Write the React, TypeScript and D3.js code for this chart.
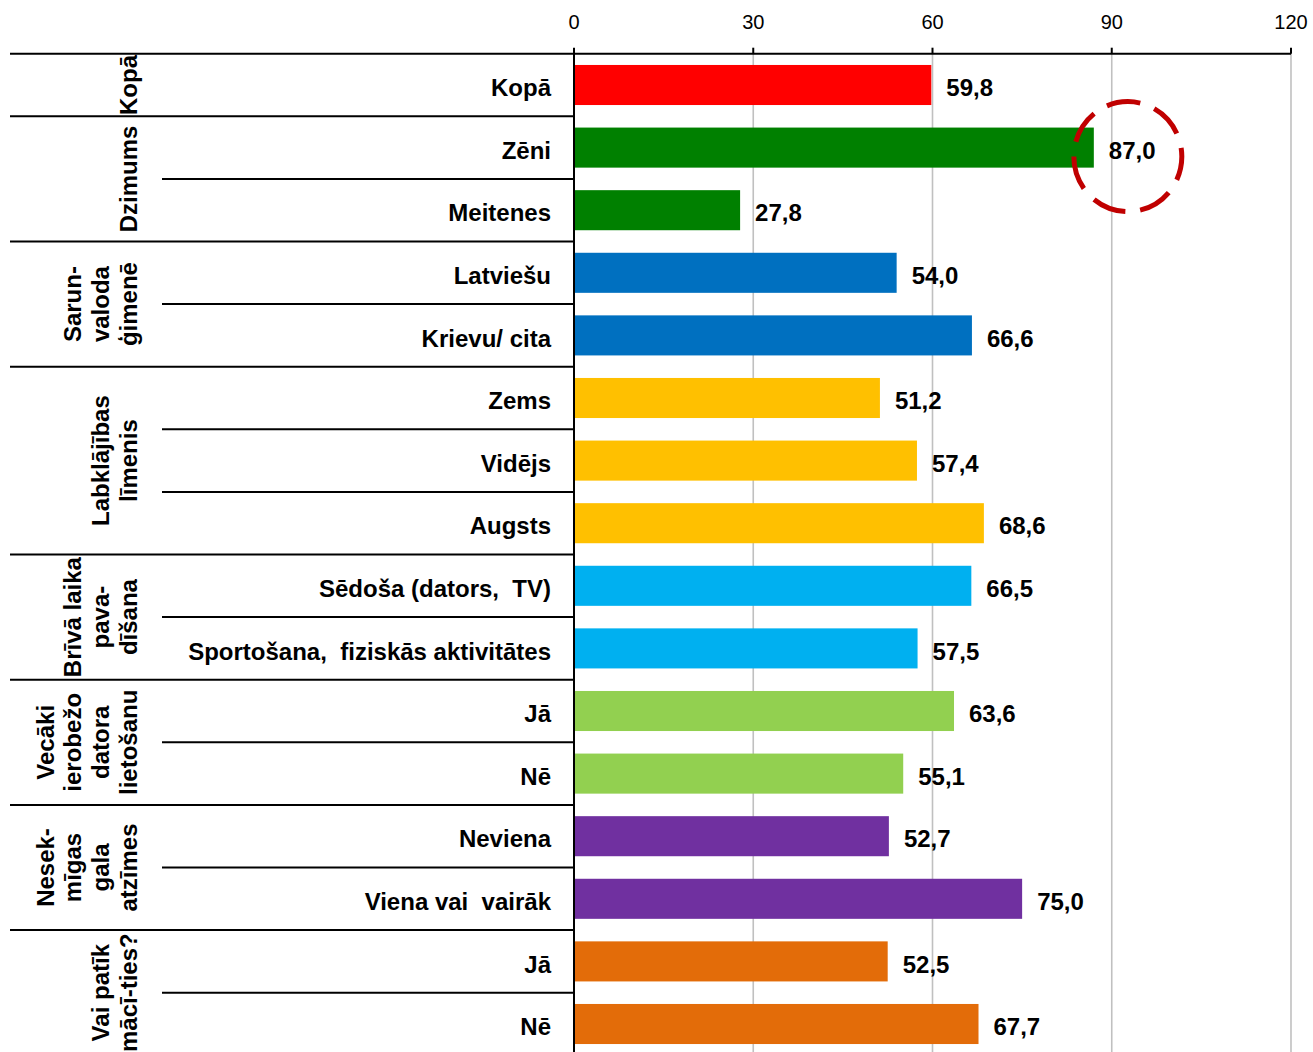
import React from "react";
import * as d3 from "d3";

const categories = [
  "Kopā", "Zēni", "Meitenes", "Latviešu", "Krievu/ cita", "Zems", "Vidējs", "Augsts",
  "Sēdoša (dators,  TV)", "Sportošana,  fiziskās aktivitātes", "Jā", "Nē", "Neviena",
  "Viena vai  vairāk", "Jā", "Nē",
];
const values = [59.8, 87.0, 27.8, 54.0, 66.6, 51.2, 57.4, 68.6, 66.5, 57.5, 63.6, 55.1, 52.7, 75.0, 52.5, 67.7];
const groupNames = [
  ["Kopā"],
  ["Dzimums"],
  ["Sarun-", "valoda", "ģimenē"],
  ["Labklājības", "līmenis"],
  ["Brīvā laika", "pava-", "dīšana"],
  ["Vecāki", "ierobežo", "datora", "lietošanu"],
  ["Nesek-", "mīgas", "gala", "atzīmes"],
  ["Vai patīk", "mācī-ties?"],
];
const groupSizes = [1, 2, 2, 3, 2, 2, 2, 2];
const groupColors = ["#ff0000", "#008000", "#0070c0", "#ffc000", "#00b0f0", "#92d050", "#7030a0", "#e36c09"];
const ticks = [0, 30, 60, 90, 120];
const highlightIndex = 1;

const W = 1313;
const H = 1052;
const FONT = "'Liberation Sans', Arial, sans-serif";

export default function App() {
  const x = d3.scaleLinear().domain([0, 120]).range([574, 1291]);
  const top = 53.7;
  const step = 62.6;
  const y = d3
    .scaleBand<number>()
    .domain(d3.range(categories.length))
    .range([top, top + step * categories.length])
    .paddingInner(0.36)
    .paddingOuter(0.18);

  const rowColor: string[] = [];
  const groupStarts: number[] = [];
  let idx = 0;
  groupSizes.forEach((s, g) => {
    groupStarts.push(idx);
    for (let k = 0; k < s; k++) rowColor.push(groupColors[g]);
    idx += s;
  });
  const rowTop = (i: number) => top + i * y.step();
  const bw = y.bandwidth();
  const cy = (i: number) => (y(i) as number) + bw / 2;
  const bottom = top + y.step() * categories.length;
  const textShift = 2.5;

  return (
    <svg width={W} height={H} style={{ position: "absolute", left: 0, top: 0, background: "#fff" }} fontFamily={FONT}>
      {/* gridlines */}
      {ticks.slice(1).map((t) => (
        <line key={"g" + t} x1={x(t)} x2={x(t)} y1={top} y2={bottom} stroke="#c0c0c0" strokeWidth={1.6} />
      ))}
      {/* bars */}
      {values.map((v, i) => (
        <rect key={"b" + i} x={x(0)} y={y(i)} width={x(v) - x(0)} height={bw} fill={rowColor[i]} />
      ))}
      {/* value labels */}
      {values.map((v, i) => (
        <text key={"v" + i} x={x(v) + 15} y={cy(i) + textShift} dy="0.36em" fontSize={24} fontWeight="bold" fill="#000">
          {d3.format(".1f")(v).replace(".", ",")}
        </text>
      ))}
      {/* category labels */}
      {categories.map((c, i) => (
        <text key={"c" + i} x={551} y={cy(i) + textShift} dy="0.36em" fontSize={24} fontWeight="bold" textAnchor="end" style={{ whiteSpace: "pre" }}>
          {c}
        </text>
      ))}
      {/* within-group separators */}
      {categories.map((_, i) =>
        i > 0 && !groupStarts.includes(i) ? (
          <line key={"s" + i} x1={162} x2={574} y1={rowTop(i)} y2={rowTop(i)} stroke="#000" strokeWidth={2} />
        ) : null
      )}
      {/* group separators */}
      {groupStarts.map((s) => (
        <line key={"gs" + s} x1={10} x2={574} y1={rowTop(s)} y2={rowTop(s)} stroke="#000" strokeWidth={2} />
      ))}
      {/* group labels */}
      {groupStarts.map((s, g) => {
        const center = (rowTop(s) + rowTop(s + groupSizes[g])) / 2;
        const lines = groupNames[g];
        return (
          <g key={"gl" + g} transform={`translate(128,${center}) rotate(-90)`}>
            {lines.map((ln, j) => (
              <text key={j} x={0} y={-(lines.length - 1 - j) * 27.6} dy="0.36em" textAnchor="middle" fontSize={24} fontWeight="bold">
                {ln}
              </text>
            ))}
          </g>
        );
      })}
      {/* axes */}
      <line x1={x(0)} x2={x(120)} y1={top} y2={top} stroke="#000" strokeWidth={2} />
      <line x1={x(0)} x2={x(0)} y1={top - 5} y2={bottom} stroke="#000" strokeWidth={2} />
      {ticks.map((t) => (
        <g key={"t" + t}>
          <line x1={x(t)} x2={x(t)} y1={top - 6} y2={top} stroke="#000" strokeWidth={2} />
          <text x={x(t)} y={29} textAnchor="middle" fontSize={20}>
            {t}
          </text>
        </g>
      ))}
      {/* highlight circle */}
      <ellipse
        cx={x(values[highlightIndex]) + 34}
        cy={cy(highlightIndex) + 9}
        rx={54}
        ry={55}
        fill="none"
        stroke="#c00000"
        strokeWidth={5}
        strokeDasharray="34 15"
        strokeDashoffset={10}
      />
    </svg>
  );
}
